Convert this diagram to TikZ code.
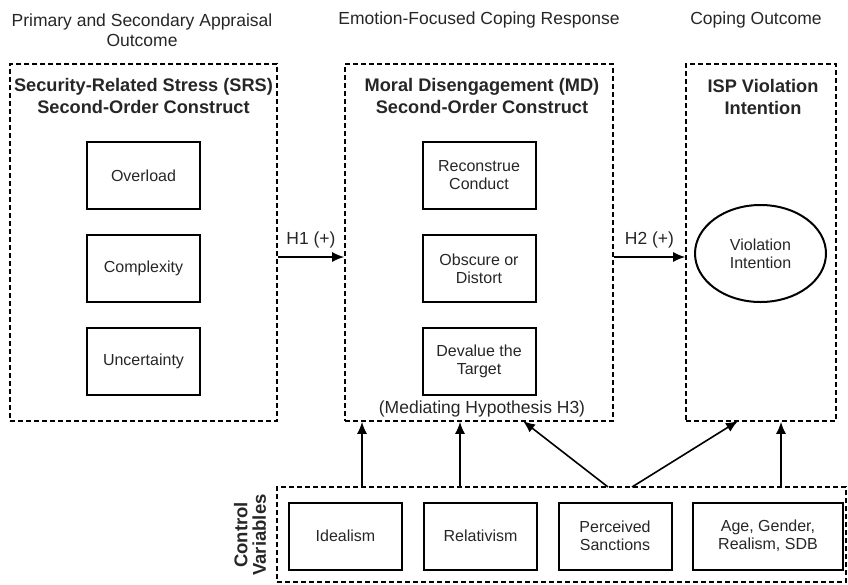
\documentclass[tikz,border=0pt]{standalone}
\usepackage{fontspec}
\setmainfont{Liberation Sans}
\usetikzlibrary{arrows.meta}
\usetikzlibrary{shapes.geometric}
\usetikzlibrary{positioning}
\tikzset{>={Latex[length=12pt,width=10pt]}}
\tikzset{
  stage/.style={font=\fontsize{17.5}{20.5}\selectfont, align=center, text=black!85},
  group/.style={draw, dash pattern=on 5pt off 3pt, line width=1.6pt, minimum height=357pt, inner sep=0pt},
  grouptitle/.style={font=\bfseries\fontsize{18.2}{22}\selectfont, align=center, text=black!85},
  item/.style={draw, line width=2pt, minimum width=113pt, minimum height=67pt, align=center, font=\fontsize{16}{18}\selectfont, text=black!85},
  link/.style={->, line width=1.6pt},
}

\begin{document}
\begin{tikzpicture}[x=1pt, y=-1pt]
    \useasboundingbox (0,0) rectangle (848,584);
    % Stage headings.
    \node[stage] (appraisal) at (142,30) {Primary and Secondary Appraisal\\Outcome};
    \node[stage] (coping) at (479,20) {Emotion-Focused Coping Response};
    \node[stage] (outcome) at (756,20) {Coping Outcome};

    % Security-related stress and its three facets.
    \node[group, minimum width=267pt] (srs) at (143.5,242.5) {};
    \node[grouptitle] (srstitle) at (143.5,96) {Security-Related Stress (SRS)\\Second-Order Construct};
    \node[item] (overload) at (143.5,175.5) {Overload};
    \node[item, below=24pt of overload] (complexity) {Complexity};
    \node[item, below=24pt of complexity] (uncertainty) {Uncertainty};

    % Moral disengagement and its three mechanisms.
    \node[group, minimum width=268pt] (md) at (479,242.5) {};
    \node[grouptitle] (mdtitle) at (482,96) {Moral Disengagement (MD)\\Second-Order Construct};
    \node[item] (reconstrue) at (479,175.5) {Reconstrue\\Conduct};
    \node[item, below=24pt of reconstrue] (obscure) {Obscure or\\Distort};
    \node[item, below=24pt of obscure] (devalue) {Devalue the\\Target};
    \node[stage] (mediating) at (482,409) {(Mediating Hypothesis H3)};

    % Violation intention.
    \node[group, minimum width=150pt] (isp) at (761,242.5) {};
    \node[grouptitle] (isptitle) at (763,97) {ISP Violation\\Intention};
    \node[ellipse, draw, line width=2pt, minimum width=131pt, minimum height=97pt, align=center,
          font=\fontsize{16}{18}\selectfont, text=black!85] (intention) at (760.5,253.5) {Violation\\Intention};

    % Hypothesised paths.
    \draw[link] ([yshift=-14.5pt]srs.east) -- node[stage, above=5pt] {H1 (+)} ([yshift=-14.5pt]md.west);
    \draw[link] ([yshift=-14.5pt]md.east) -- node[stage, above=5pt] {H2 (+)} ([yshift=-14.5pt]isp.west);

    % Control variables.
    \node[group, minimum width=569pt, minimum height=95pt] (ctrl) at (561.5,534.5) {};
    \node[grouptitle, rotate=90, font=\bfseries\fontsize{18.5}{18.5}\selectfont] (ctrllabel) at (250,535) {Control\\Variables};
    \node[item] (idealism) at (345.5,536) {Idealism};
    \node[item] (relativism) at (480.5,536) {Relativism};
    \node[item] (sanctions) at (615,536) {Perceived\\Sanctions};
    \node[item, minimum width=150pt] (demo) at (768,536) {Age, Gender,\\Realism, SDB};

    % Control paths into the two outcome boxes.
    \coordinate (mdfoota) at (362,421);
    \coordinate (mdfootb) at (460,421);
    \coordinate (mdfootc) at (523,421);
    \coordinate (ispfoota) at (738,421);
    \coordinate (ispfootb) at (781,421);
    \coordinate (ctrlheada) at (608,487);
    \coordinate (ctrlheadb) at (632,487);
    \draw[link] (ctrl.north -| mdfoota) -- (md.south -| mdfoota);
    \draw[link] (ctrl.north -| mdfootb) -- (md.south -| mdfootb);
    \draw[link] (ctrlheada) -- (mdfootc);
    \draw[link] (ctrlheadb) -- (ispfoota);
    \draw[link] (ctrl.north -| ispfootb) -- (isp.south -| ispfootb);
\end{tikzpicture}
\end{document}
